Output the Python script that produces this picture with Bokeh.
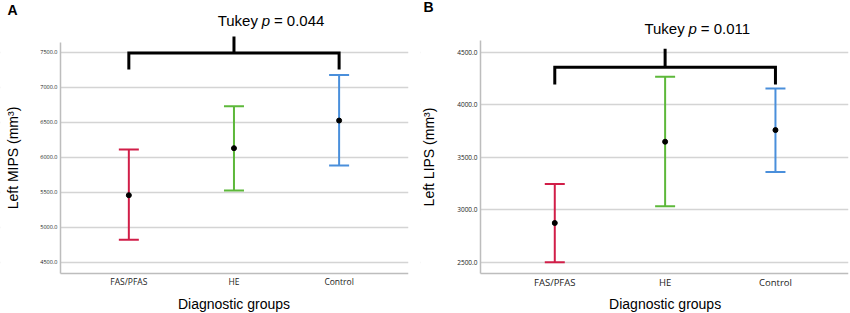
from bokeh.plotting import figure
from bokeh.layouts import row
from bokeh.models import Range1d, FixedTicker, ColumnDataSource, BoxAnnotation
from bokeh.core.properties import value
from bokeh.embed import file_html
from bokeh.resources import INLINE

groups = ["FAS/PFAS", "HE", "Control"]
group_colors = ["#D11E48", "#5DB83A", "#4A8FDB"]
x_title = "Diagnostic groups"

# Panel A: Left MIPS (mm3), mean with 95% CI
a_label = "Left MIPS (mm\u00b3)"
a_mean = [5457, 6129, 6524]
a_lower = [4819, 5524, 5881]
a_upper = [6110, 6729, 7176]
a_ticks = [4500, 5000, 5500, 6000, 6500, 7000, 7500]
a_pval = "0.044"
a_bracket = [7490, 7252, 7724]   # bar level, leg end, centre tick top

# Panel B: Left LIPS (mm3)
b_label = "Left LIPS (mm\u00b3)"
b_mean = [2873, 3647, 3758]
b_lower = [2499, 3032, 3359]
b_upper = [3244, 4265, 4154]
b_ticks = [2500, 3000, 3500, 4000, 4500]
b_pval = "0.011"
b_bracket = [4357, 4192, 4532]

TEXT_DY = -5  # screen-pixel nudge for text glyph baselines


def panel(letter, ylabel, mean, lower, upper, ticks, pval, bracket,
          width, right_border, xr, axis_x, yr, axis_y, ybound,
          title_xy, letter_xy, xlabel_y, tick_fs, cat_fs, ylab_standoff):
    xs = list(range(1, len(groups) + 1))
    p = figure(width=width, height=313, x_range=Range1d(*xr), y_range=Range1d(*yr),
               output_backend="svg", toolbar_location=None,
               min_border_left=0, min_border_right=right_border,
               min_border_top=0, min_border_bottom=0, outline_line_color=None,
               background_fill_color="white", border_fill_color="white")

    # grid
    p.xgrid.visible = False
    p.ygrid.ticker = FixedTicker(ticks=ticks)
    p.ygrid.grid_line_color = "#D4D4D4"
    p.ygrid.grid_line_width = 1.5
    # white strip left of the plotting area (keeps grid lines inside the axes)
    p.add_layout(BoxAnnotation(left=xr[0], right=axis_x, bottom=yr[0], top=yr[1],
                               fill_color="white", fill_alpha=1.0, line_color=None,
                               level="underlay"))

    src = ColumnDataSource(dict(x=xs, mean=mean, lower=lower, upper=upper, color=group_colors))
    p.segment(x0="x", y0="lower", x1="x", y1="upper", line_color="color", line_width=2, source=src)
    p.scatter("x", "upper", marker="dash", size=20, line_color="color", line_width=2, source=src)
    p.scatter("x", "lower", marker="dash", size=20, line_color="color", line_width=2, source=src)
    p.scatter("x", "mean", size=5, color="black", source=src)

    bar, leg, top = bracket
    p.multi_line(xs=[[xs[0], xs[0], xs[-1], xs[-1]], [xs[1], xs[1]]],
                 ys=[[leg, bar, bar, leg], [bar, top]],
                 line_color="black", line_width=3, line_join="miter", line_cap="butt")

    tx, ty = title_xy
    common = dict(text_font=value("Liberation Sans"), text_font_size="15px",
                  text_color="black", text_baseline="alphabetic", y_offset=TEXT_DY)
    p.text(x=[tx], y=[ty], text=["Tukey"], text_align="right", x_offset=-8, **common)
    p.text(x=[tx], y=[ty], text=["p"], text_align="center", text_font_style="italic", **common)
    p.text(x=[tx], y=[ty], text=["= " + pval], text_align="left", x_offset=8, **common)

    # panel letter
    p.text(x=[letter_xy[0]], y=[letter_xy[1]], text=[letter], text_align="left",
           text_baseline="alphabetic", text_font=value("Liberation Sans"), y_offset=TEXT_DY,
           text_font_size="14px", text_font_style="bold", text_color="black")
    # x axis title, centred under the middle group
    p.text(x=[xs[1]], y=[xlabel_y], text=[x_title], text_align="center",
           text_baseline="alphabetic", text_font=value("Liberation Sans"), y_offset=TEXT_DY,
           text_font_size="14px", text_color="black")

    p.yaxis.fixed_location = axis_x
    p.yaxis.ticker = FixedTicker(ticks=ticks)
    p.yaxis.major_label_overrides = {t: f"{t:.1f}" for t in ticks}
    p.yaxis.bounds = (axis_y, ybound)
    p.xaxis.fixed_location = axis_y
    p.xaxis.ticker = FixedTicker(ticks=xs)
    p.xaxis.major_label_overrides = {x: g for x, g in zip(xs, groups)}
    p.xaxis.bounds = (axis_x, xr[1])

    for ax in (p.xaxis[0], p.yaxis[0]):
        ax.axis_line_color = "#BDBDBD"
        ax.axis_line_width = 1.5
        ax.major_tick_line_color = None
        ax.minor_tick_line_color = None
        ax.major_tick_out = 0
        ax.major_tick_in = 0
        ax.minor_tick_out = 0
        ax.major_label_text_font = "Open Sans"
        ax.major_label_text_color = "#222222"
        ax.axis_label_text_font = "Liberation Sans"
        ax.axis_label_text_font_style = "normal"
        ax.axis_label_text_font_size = "14px"
        ax.axis_label_text_color = "black"
        ax.major_label_standoff = 3
    p.yaxis.major_label_text_font_size = tick_fs
    p.xaxis.major_label_text_font_size = cat_fs
    p.yaxis.axis_label = ylabel
    p.yaxis.axis_label_standoff = ylab_standoff
    return p


pa = panel("A", a_label, a_mean, a_lower, a_upper, a_ticks, a_pval, a_bracket,
           420, 12, (-0.2207, 3.66), 0.35, (3767, 8239), 4339, 7639,
           (2.304, 7881), (-0.154, 8025), 3832, "5.5px", "8.5px", 16)
pb = panel("B", b_label, b_mean, b_lower, b_upper, b_ticks, b_pval, b_bracket,
           430, 2, (-0.217, 3.662), 0.327, (2011, 4992), 2392, 4611,
           (2.25, 4678), (-0.19, 4878), 2054, "6.5px", "9.5px", 17)

layout = row(pa, pb, spacing=0)
open("out.html", "w").write(file_html(layout, INLINE))
